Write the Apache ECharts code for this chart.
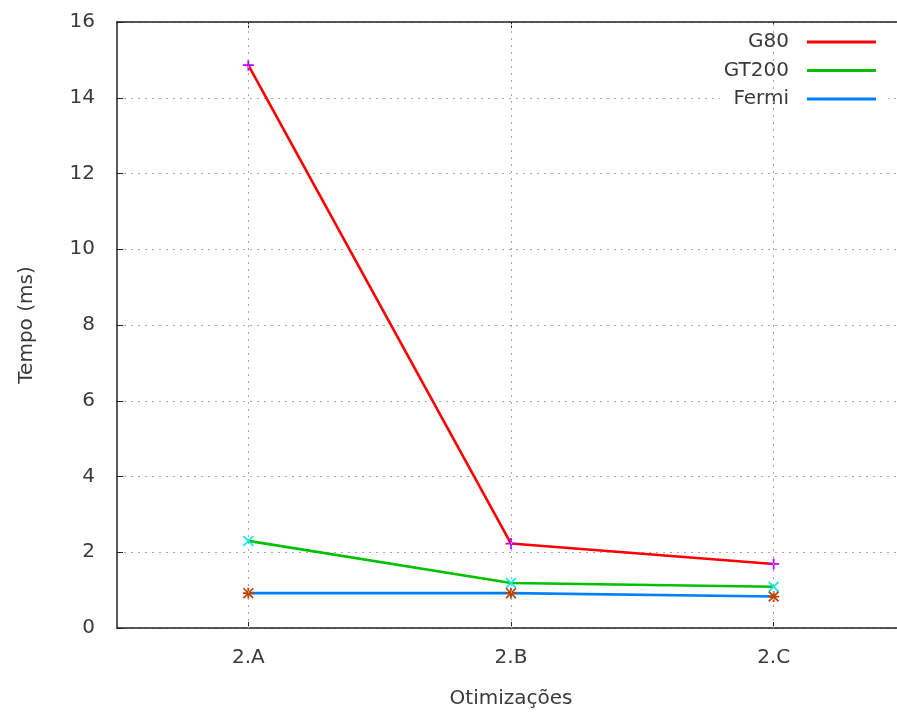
<!DOCTYPE html>
<html>
<head>
<meta charset="utf-8">
<script src="https://cdn.jsdelivr.net/npm/echarts@6/dist/echarts.min.js"></script>
<style>
  html, body { margin: 0; padding: 0; background: #fff; overflow: hidden; }
  #chart { width: 910px; height: 715px; }
</style>
</head>
<body>
<div id="chart"></div>
<script>
const categories = ["2.A", "2.B", "2.C"];
const g80 = [14.86, 2.23, 1.69];
const gt200 = [2.3, 1.19, 1.09];
const fermi = [0.92, 0.92, 0.83];
const yTicks = { min: 0, max: 16, interval: 2 };

const FONT = "DejaVu Sans";
const TEXT = "#3a3a3a";
const GRIDLINE = { color: "#a8a8a8", width: 1, type: [2, 5] };

// gnuplot-like point glyphs (filled paths)
const PLUS = "path://M0,4.2L10,4.2L10,5.8L0,5.8Z M4.2,0L5.8,0L5.8,10L4.2,10Z";
const CROSS = "path://M0,1.1L1.1,0L10,8.9L8.9,10Z M8.9,0L10,1.1L1.1,10L0,8.9Z";
const STAR = PLUS + " " + CROSS.replace("path://", "");

function lineSeries(name, data, lineColor, pointColor, symbol) {
  return {
    name,
    type: "line",
    data,
    symbol,
    symbolSize: 11,
    showSymbol: true,
    z: 3,
    lineStyle: { color: lineColor, width: 2.6 },
    itemStyle: { color: pointColor },
    emphasis: { disabled: true },
  };
}

const chart = echarts.init(document.getElementById("chart"), null, { renderer: "canvas" });

chart.setOption({
  animation: false,
  backgroundColor: "#fff",
  textStyle: { fontFamily: FONT, color: TEXT },
  grid: { left: 117, top: 22, width: 788, height: 606, show: false },
  legend: {
    orient: "vertical",
    align: "right",
    right: 22,
    top: 24,
    padding: [4, 12, 4, 4],
    backgroundColor: "#fff",
    itemWidth: 69,
    itemHeight: 3,
    itemGap: 0.5,
    icon: "rect",
    selectedMode: false,
    textStyle: { fontFamily: FONT, fontSize: 20, color: TEXT, lineHeight: 28, padding: [0, 13, 0, 0] },
    data: [
      { name: "G80", itemStyle: { color: "#ff0000" } },
      { name: "GT200", itemStyle: { color: "#00c000" } },
      { name: "Fermi", itemStyle: { color: "#0080ff" } },
    ],
  },
  xAxis: [
    {
      type: "category",
      data: categories,
      boundaryGap: true,
      position: "bottom",
      name: "Otimizações",
      nameLocation: "middle",
      nameGap: 61,
      nameTextStyle: { fontFamily: FONT, fontSize: 20, color: TEXT },
      axisLine: { show: true, lineStyle: { color: "#222", width: 1.5 } },
      axisTick: { show: true, inside: true, alignWithLabel: true, length: 6, lineStyle: { color: "#222" } },
      axisLabel: { fontFamily: FONT, fontSize: 20, color: TEXT, margin: 20 },
      splitLine: { show: false },
    },
    {
      type: "category",
      data: categories,
      boundaryGap: true,
      position: "top",
      axisLine: { show: true, lineStyle: { color: "#222", width: 1.5 } },
      axisTick: { show: true, inside: true, alignWithLabel: true, length: 6, lineStyle: { color: "#222" } },
      axisLabel: { show: false },
      splitLine: { show: false },
    },
  ],
  yAxis: {
    type: "value",
    min: yTicks.min,
    max: yTicks.max,
    interval: yTicks.interval,
    name: "Tempo (ms)",
    nameLocation: "middle",
    nameGap: 80,
    nameTextStyle: { fontFamily: FONT, fontSize: 20, color: TEXT },
    axisLine: { show: true, lineStyle: { color: "#222", width: 1.5 } },
    axisTick: { show: true, inside: true, length: 6, lineStyle: { color: "#222" } },
    axisLabel: { fontFamily: FONT, fontSize: 20, color: TEXT, margin: 22 },
    splitLine: { show: true, lineStyle: GRIDLINE },
  },
  series: [
    {
      name: "vgrid",
      type: "line",
      data: [],
      z: 1,
      silent: true,
      markLine: {
        silent: true,
        symbol: "none",
        label: { show: false },
        lineStyle: GRIDLINE,
        emphasis: { disabled: true },
        data: categories.map((c) => ({ xAxis: c })),
      },
    },
    lineSeries("G80", g80, "#ff0000", "#c000ff", PLUS),
    lineSeries("GT200", gt200, "#00c000", "#00eeee", CROSS),
    lineSeries("Fermi", fermi, "#0080ff", "#c04000", STAR),
  ],
});
</script>
</body>
</html>
